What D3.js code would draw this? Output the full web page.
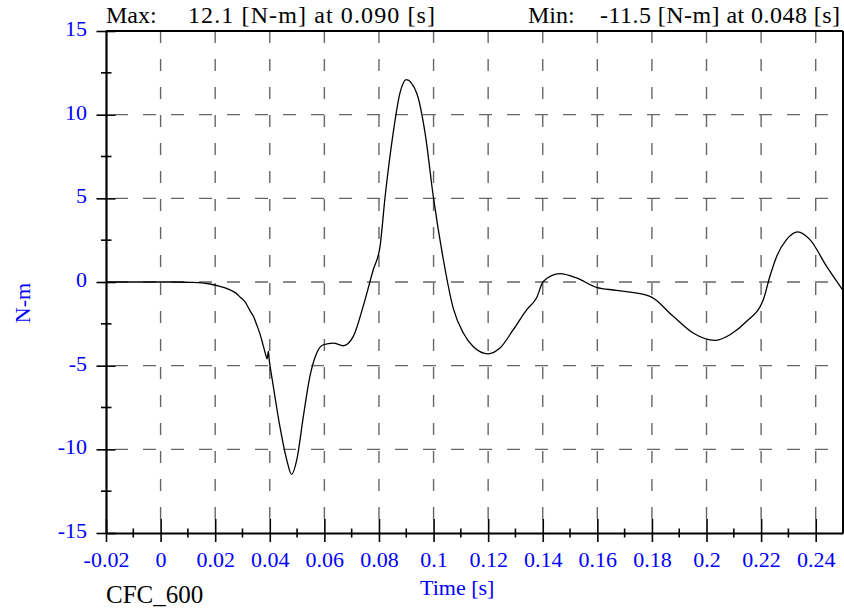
<!DOCTYPE html>
<html>
<head>
<meta charset="utf-8">
<script src="https://cdn.jsdelivr.net/npm/d3@7"></script>
<style>
  html, body { margin: 0; padding: 0; background: #fff; }
  svg { display: block; }
  svg text { font-family: "Liberation Serif", "Times New Roman", Times, serif !important; }
</style>
</head>
<body>
<svg id="chart" width="844" height="609"></svg>
<script>
// ---- data ----
const times = [-0.02, -0.01, 0.0, 0.005, 0.0108, 0.015, 0.0181, 0.0215, 0.0248, 0.0275, 0.0291, 0.031,
  0.0327, 0.034, 0.0352, 0.0364, 0.0376, 0.0386, 0.039, 0.0395, 0.0398, 0.0403, 0.0409, 0.0437, 0.0462,
  0.048, 0.0499, 0.0523, 0.0547, 0.0572, 0.0596, 0.0633, 0.0669, 0.0706, 0.0742, 0.0779, 0.0804, 0.0822,
  0.0852, 0.0877, 0.090, 0.0938, 0.0969, 0.0999, 0.1036, 0.1072, 0.1109, 0.1145, 0.120, 0.1243, 0.1292,
  0.1341, 0.1377, 0.1402, 0.1463, 0.1524, 0.1597, 0.167, 0.1793, 0.1878, 0.1951, 0.2031, 0.2086, 0.2147,
  0.2208, 0.2232, 0.2257, 0.2293, 0.2334, 0.2379, 0.244, 0.25];
const values = [0, 0, 0, 0, -0.02, -0.05, -0.12, -0.25, -0.42, -0.65, -0.9, -1.2,
  -1.7, -2.05, -2.55, -3.1, -3.8, -4.4, -4.6, -4.15, -4.65, -5.24, -5.84, -8.63, -10.62,
  -11.5, -10.62, -8.03, -5.64, -4.24, -3.75, -3.65, -3.81, -3.25, -1.46, 0.73, 2.13, 5.02,
  8.9, 11.3, 12.1, 11.3, 8.9, 5.12, 1.33, -1.56, -3.05, -3.85, -4.29, -3.95, -2.85,
  -1.66, -0.96, 0.03, 0.5, 0.24, -0.32, -0.5, -0.86, -2.05, -3.05, -3.49, -3.15, -2.35,
  -1.06, 0.33, 1.53, 2.53, 3.0, 2.53, 0.93, -0.5];

const xTicks = [-0.02, 0, 0.02, 0.04, 0.06, 0.08, 0.1, 0.12, 0.14, 0.16, 0.18, 0.2, 0.22, 0.24];
const xTickLabels = ["-0.02", "0", "0.02", "0.04", "0.06", "0.08", "0.1", "0.12", "0.14", "0.16", "0.18", "0.2", "0.22", "0.24"];
const xMinorTicks = [-0.01, 0.01, 0.03, 0.05, 0.07, 0.09, 0.11, 0.13, 0.15, 0.17, 0.19, 0.21, 0.23];
const yTicks = [-15, -10, -5, 0, 5, 10, 15];
const yTickLabels = ["-15", "-10", "-5", "0", "5", "10", "15"];
const yMinorTicks = [-12.5, -7.5, -2.5, 2.5, 7.5, 12.5];

const maxLabel = "12.1 [N-m] at 0.090 [s]";
const minLabel = "-11.5 [N-m] at 0.048 [s]";
const xTitle = "Time [s]";
const yTitle = "N-m";
const filterLabel = "CFC_600";

// ---- layout ----
const L = 106, R = 843, T = 31, B = 533;
const blue = "#0000ff";
const serif = "'Liberation Serif', 'Times New Roman', Times, serif";
const svg = d3.select("#chart");
svg.append("rect").attr("width", 844).attr("height", 609).attr("fill", "#fff");

const x = d3.scaleLinear().domain([-0.02, 0.25]).range([L, R]);
const y = d3.scaleLinear().domain([-15, 15]).range([B, T]);

// grid
const grid = svg.append("g");
grid.selectAll("line.vg").data(xTicks.slice(1)).join("line")
  .attr("x1", d => x(d)).attr("x2", d => x(d)).attr("y1", T).attr("y2", B)
  .attr("stroke", "#666").attr("stroke-width", 1.4).attr("stroke-dasharray", "12,16");
grid.selectAll("line.hg").data(yTicks.slice(1, -1)).join("line")
  .attr("x1", L).attr("x2", R).attr("y1", d => y(d)).attr("y2", d => y(d))
  .attr("stroke", "#666").attr("stroke-width", 1.4).attr("stroke-dasharray", "13,15")
  .attr("stroke-dashoffset", 19);

// frame top/right
svg.append("line").attr("x1", L).attr("x2", R).attr("y1", T).attr("y2", T).attr("stroke", "#000").attr("stroke-width", 2);
svg.append("line").attr("x1", R).attr("x2", R).attr("y1", T).attr("y2", B).attr("stroke", "#000").attr("stroke-width", 2);

// axes
const yAxis = svg.append("g").attr("transform", `translate(${L},0)`)
  .call(d3.axisLeft(y).tickValues(yTicks).tickFormat((d, i) => yTickLabels[i]).tickSizeOuter(0).tickPadding(13))
  .attr("font-family", serif).style("font-family", serif);
yAxis.select(".domain").attr("stroke", "#000").attr("stroke-width", 2.2);
yAxis.selectAll(".tick line").attr("x1", 9.5).attr("x2", -9.5).attr("stroke", "#000").attr("stroke-width", 1.6);
yAxis.selectAll(".tick text").attr("fill", blue).attr("font-size", 22)
  .style("font-family", serif).attr("dy", "0.2em");
yAxis.selectAll("line.minor").data(yMinorTicks).join("line").attr("class", "minor")
  .attr("x1", -5).attr("x2", 5.5).attr("y1", d => y(d)).attr("y2", d => y(d))
  .attr("stroke", "#000").attr("stroke-width", 1.6);

const xAxis = svg.append("g").attr("transform", `translate(0,${B})`)
  .call(d3.axisBottom(x).tickValues(xTicks).tickFormat((d, i) => xTickLabels[i]).tickSizeOuter(0).tickPadding(12))
  .attr("font-family", serif).style("font-family", serif);
xAxis.select(".domain").attr("stroke", "#000").attr("stroke-width", 2.2);
xAxis.selectAll(".tick line").attr("y1", -14).attr("y2", 9).attr("stroke", "#000").attr("stroke-width", 1.6);
xAxis.selectAll(".tick text").attr("fill", blue).attr("font-size", 22)
  .style("font-family", serif);
xAxis.selectAll("line.minor").data(xMinorTicks).join("line").attr("class", "minor")
  .attr("x1", d => x(d)).attr("x2", d => x(d)).attr("y1", -4.5).attr("y2", 4.5)
  .attr("stroke", "#000").attr("stroke-width", 1.6);

// curve
const pts = times.map((t, i) => [t, values[i]]);
const line = d3.line().x(d => x(d[0])).y(d => y(d[1])).curve(d3.curveMonotoneX);
svg.append("path").attr("d", line(pts)).attr("fill", "none").attr("stroke", "#000").attr("stroke-width", 1.3);

// texts
const tx = (xx, yy, s, size, col, anchor) => svg.append("text").attr("x", xx).attr("y", yy)
  .attr("font-size", size).attr("fill", col).attr("text-anchor", anchor || "start").text(s);
tx(106, 23, "Max:", 24, "#000");
tx(188, 23, maxLabel, 24, "#000").attr("textLength", 247).attr("lengthAdjust", "spacing");
tx(528, 23, "Min:", 24, "#000");
tx(600, 23, minLabel, 24, "#000").attr("textLength", 240).attr("lengthAdjust", "spacing");
tx(420, 595, xTitle, 22, blue);
tx(106, 603, filterLabel, 25, "#000");
svg.append("text").attr("transform", "translate(30,303) rotate(-90)")
  .attr("text-anchor", "middle").attr("font-size", 22).attr("fill", blue).text(yTitle);
</script>
</body>
</html>
